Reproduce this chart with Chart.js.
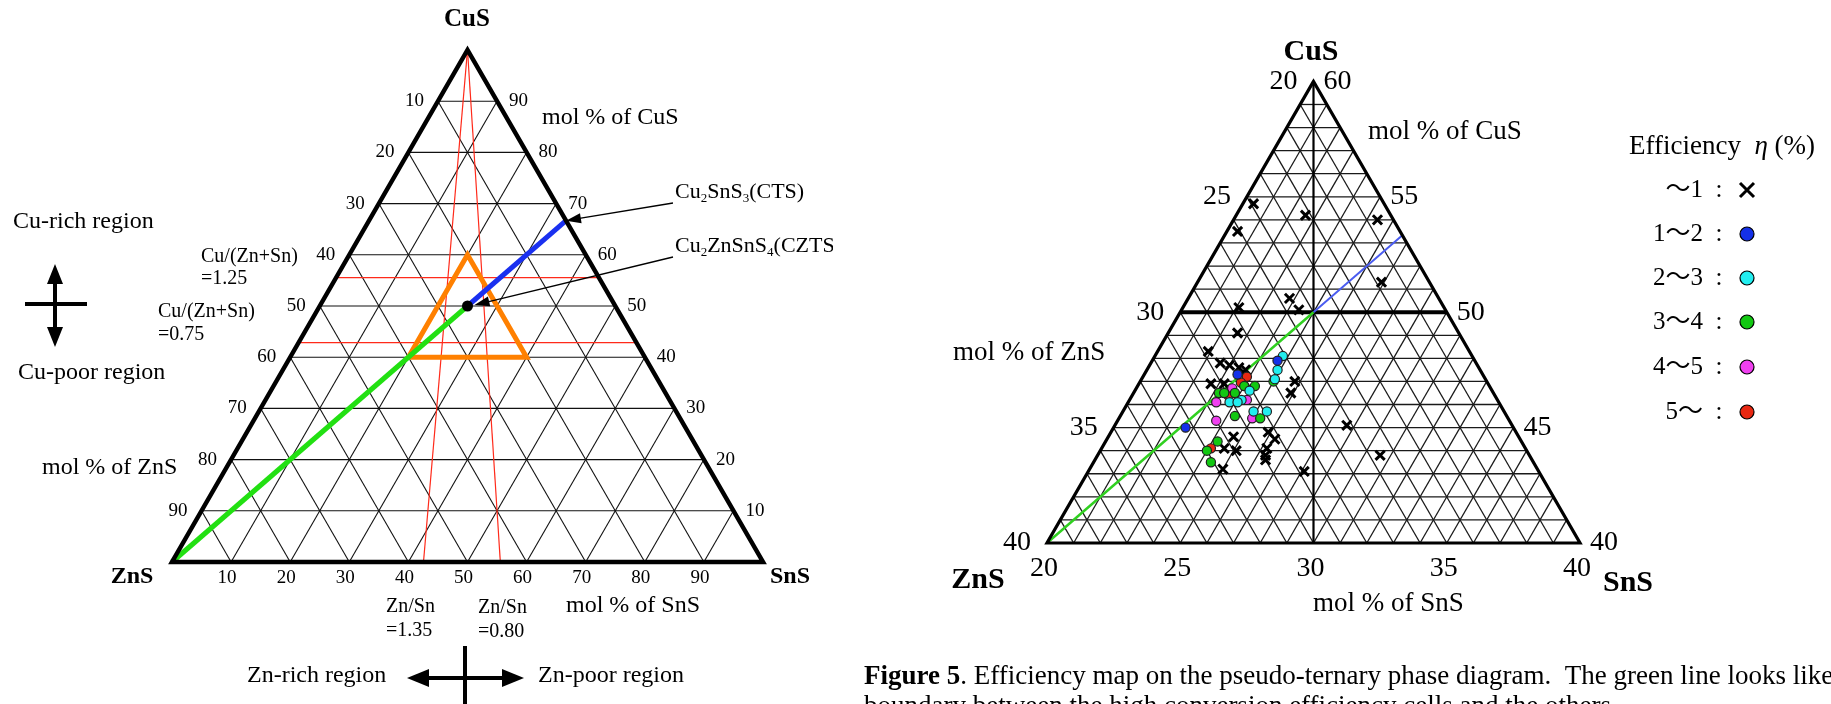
<!DOCTYPE html>
<html>
<head>
<meta charset="utf-8">
<script src="https://cdn.jsdelivr.net/npm/chart.js@4.4.0/dist/chart.umd.min.js"></script>
<style>
  html, body { margin: 0; padding: 0; background: #fff; }
  #wrap { position: relative; width: 1831px; height: 704px; overflow: hidden; }
  canvas { position: absolute; top: 0; }
  #left { left: 0; }
  #right { left: 850px; }
</style>
</head>
<body>
<div id="wrap">
  <canvas id="left" width="833" height="704"></canvas>
  <canvas id="right" width="981" height="704"></canvas>
</div>
<script>
// ---- data (compositions are [CuS, ZnS, SnS] in mol %) ----
const fullTicks = [10, 20, 30, 40, 50, 60, 70, 80, 90];
const cuRatios = [1.25, 0.75];     // Cu/(Zn+Sn)
const znSnRatios = [1.35, 0.80];   // Zn/Sn
const CZTS = [50, 25, 25];
const CTS = [66.67, 0, 33.33];
const ZNS = [0, 100, 0];
const zoomBox = [[60, 20, 20], [40, 40, 20], [40, 20, 40]];

// zoomed diagram
const zoomLeftTicks = [20, 25, 30, 35, 40];    // ZnS
const zoomRightTicks = [60, 55, 50, 45, 40];   // CuS
const zoomBottomTicks = [20, 25, 30, 35, 40];  // SnS
const ctsEdge = [53.33, 20, 26.67];

// efficiency classes, points as [CuS, SnS]
const effBelow1 = [[49.1, 22.6], [48.3, 21.9], [47.8, 22.6], [47.7, 23.0], [47.6, 23.4], [47.5, 23.7],
  [46.9, 22.7], [46.9, 23.2], [47.0, 25.8], [46.5, 25.9], [44.6, 24.7], [44.8, 25.9], [44.5, 26.3],
  [44.1, 24.6], [44.0, 25.1], [44.1, 26.2], [43.8, 26.3], [43.6, 26.4], [43.2, 25.0], [43.1, 28.1],
  [45.1, 28.7], [43.8, 30.6], [54.7, 20.4], [54.2, 22.6], [54.0, 25.4], [53.5, 20.4], [51.3, 26.9],
  [50.6, 23.8], [50.1, 24.4], [50.2, 22.1]];
const eff1to2 = [[47.9, 24.7], [47.3, 23.5], [45.0, 22.7]];
const eff2to3 = [[48.1, 24.8], [47.5, 24.9], [47.1, 25.0], [46.6, 24.3], [46.2, 24.2], [46.1, 23.8],
  [46.1, 24.1], [45.7, 24.9], [45.7, 25.4]];
const eff3to4 = [[46.8, 24.0], [46.8, 24.4], [46.5, 23.2], [46.5, 23.4], [46.5, 23.8], [45.5, 24.3],
  [45.4, 25.3], [44.4, 24.2], [44.0, 24.0], [43.5, 24.4], [47.0, 25.0]];
const eff4to5 = [[46.7, 23.6], [46.1, 23.3], [45.3, 23.7], [45.4, 25.0], [46.2, 24.4]];
const eff5up = [[47.2, 23.9], [46.95, 23.8], [46.4, 23.6], [44.1, 24.1]];
const effLabels = ['\uFF5E1', '1\uFF5E2', '2\uFF5E3', '3\uFF5E4', '4\uFF5E5', '5\uFF5E'];
const effColors = [null, '#1430e8', '#22eef0', '#12c812', '#f040f0', '#e82812'];

// ---- helpers ----
const H = Math.sqrt(3) / 2;
const SERIF = '"Liberation Serif", "Noto Sans CJK JP", serif';
function tern(c) { return { x: c[2] + c[0] / 2, y: c[0] * H }; }
function fromCuSn(p) { return [p[0], 100 - p[0] - p[1], p[1]]; }

function seg(points, color, width, order) {
  return {
    data: points.map(tern), showLine: true, borderColor: color, borderWidth: width,
    pointRadius: 0, pointHoverRadius: 0, fill: false, clip: false, order: order, tension: 0,
    borderCapStyle: 'butt', borderJoinStyle: 'miter'
  };
}

function arrowHead(ctx, x1, y1, x2, y2, head, half) {
  const a = Math.atan2(y2 - y1, x2 - x1);
  const c = Math.cos(a), s = Math.sin(a);
  ctx.beginPath();
  ctx.moveTo(x1, y1);
  ctx.lineTo(x2 - c * head * 0.7, y2 - s * head * 0.7);
  ctx.stroke();
  ctx.beginPath();
  ctx.moveTo(x2, y2);
  ctx.lineTo(x2 - c * head + s * half, y2 - s * head - c * half);
  ctx.lineTo(x2 - c * head - s * half, y2 - s * head + c * half);
  ctx.closePath();
  ctx.fill();
}

function chem(ctx, parts, x, y, size) {
  ctx.textAlign = 'left';
  parts.forEach(p => {
    const sub = /^\d$/.test(p);
    ctx.font = (sub ? Math.round(size * 0.6) : size) + 'px ' + SERIF;
    ctx.fillText(p, x, sub ? y + size * 0.32 : y);
    x += ctx.measureText(p).width;
  });
}

function txt(ctx, s, x, y, size, align, bold) {
  ctx.font = (bold ? 'bold ' : '') + size + 'px ' + SERIF;
  ctx.textAlign = align || 'left';
  ctx.fillText(s, x, y);
}

// ---- left: full pseudo-ternary diagram ----
const leftSets = [];
fullTicks.forEach(v => {
  leftSets.push(seg([[v, 100 - v, 0], [v, 0, 100 - v]], '#111', 1.1, 10));
  leftSets.push(seg([[100 - v, v, 0], [0, v, 100 - v]], '#111', 1.1, 10));
  leftSets.push(seg([[100 - v, 0, v], [0, 100 - v, v]], '#111', 1.1, 10));
});
cuRatios.forEach(r => {
  const c = 100 * r / (1 + r);
  leftSets.push(seg([[c, 100 - c, 0], [c, 0, 100 - c]], '#ff2a1a', 1.2, 8));
});
znSnRatios.forEach(r => {
  const s = 100 / (1 + r);
  leftSets.push(seg([[100, 0, 0], [0, 100 - s, s]], '#ff2a1a', 1.2, 8));
});
leftSets.push(seg([...zoomBox, zoomBox[0], zoomBox[1]], '#ff8000', 5, 6));
leftSets.push(seg([ZNS, CZTS], '#22e012', 5, 4));
leftSets.push(seg([CZTS, CTS], '#1a30f0', 5, 4));
leftSets.push(seg([[100, 0, 0], [0, 100, 0], [0, 0, 100], [100, 0, 0], [0, 100, 0]], '#000', 4.5, 2));
leftSets.push({ data: [tern(CZTS)], showLine: false, pointRadius: 5.5, pointBackgroundColor: '#000',
  pointBorderWidth: 0, clip: false, order: 0 });

const leftText = {
  id: 'leftText',
  afterDraw(chart) {
    const ctx = chart.ctx, sx = chart.scales.x, sy = chart.scales.y;
    const P = c => { const t = tern(c); return [sx.getPixelForValue(t.x), sy.getPixelForValue(t.y)]; };
    ctx.save();
    ctx.fillStyle = '#000';
    ctx.strokeStyle = '#000';
    ctx.textBaseline = 'middle';
    fullTicks.forEach(v => {
      let p = P([100 - v, v, 0]);
      txt(ctx, String(v), p[0] - 14, p[1], 19, 'right');
      p = P([v, 0, 100 - v]);
      txt(ctx, String(v), p[0] + 12, p[1], 19, 'left');
      p = P([0, 100 - v, v]);
      txt(ctx, String(v), p[0] - 4, p[1] + 16, 19, 'center');
    });
    txt(ctx, 'CuS', 467, 20, 25, 'center', true);
    txt(ctx, 'ZnS', 132, 577, 24, 'center', true);
    txt(ctx, 'SnS', 790, 577, 24, 'center', true);
    txt(ctx, 'mol % of CuS', 542, 118, 24);
    txt(ctx, 'mol % of ZnS', 42, 468, 24);
    txt(ctx, 'mol % of SnS', 566, 606, 24);
    txt(ctx, 'Cu-rich region', 13, 222, 24);
    txt(ctx, 'Cu-poor region', 18, 373, 24);
    txt(ctx, 'Cu/(Zn+Sn)', 201, 257, 20);
    txt(ctx, '=1.25', 201, 279, 20);
    txt(ctx, 'Cu/(Zn+Sn)', 158, 312, 20);
    txt(ctx, '=0.75', 158, 335, 20);
    txt(ctx, 'Zn/Sn', 386, 607, 20);
    txt(ctx, '=1.35', 386, 631, 20);
    txt(ctx, 'Zn/Sn', 478, 608, 20);
    txt(ctx, '=0.80', 478, 632, 20);
    txt(ctx, 'Zn-rich region', 247, 676, 24);
    txt(ctx, 'Zn-poor region', 538, 676, 24);
    chem(ctx, ['Cu', '2', 'SnS', '3', '(CTS)'], 675, 192, 22);
    chem(ctx, ['Cu', '2', 'ZnSnS', '4', '(CZTS)'], 675, 246, 22);

    // pointer arrows to CTS and CZTS
    ctx.lineWidth = 1.3;
    const pc = P(CTS);
    arrowHead(ctx, 673, 203, pc[0], pc[1], 15, 5);
    const pz = P(CZTS);
    arrowHead(ctx, 673, 257, pz[0] + 7, pz[1] - 1, 15, 5);

    // Cu-rich / Cu-poor double arrow
    ctx.lineWidth = 4;
    arrowHead(ctx, 55, 304, 55, 264, 20, 8);
    arrowHead(ctx, 55, 304, 55, 347, 20, 8);
    ctx.beginPath(); ctx.moveTo(25, 304); ctx.lineTo(87, 304); ctx.stroke();
    // Zn-rich / Zn-poor double arrow
    arrowHead(ctx, 465, 678, 407, 678, 22, 9);
    arrowHead(ctx, 465, 678, 524, 678, 22, 9);
    ctx.beginPath(); ctx.moveTo(465, 646); ctx.lineTo(465, 704); ctx.stroke();
    ctx.restore();
  }
};

new Chart(document.getElementById('left'), {
  type: 'scatter',
  data: { datasets: leftSets },
  options: {
    responsive: false, animation: false, events: [],
    layout: { padding: { left: 172, right: 70, top: 50, bottom: 142 } },
    scales: {
      x: { type: 'linear', min: 0, max: 100, display: false },
      y: { type: 'linear', min: 0, max: 100 * H, display: false }
    },
    plugins: { legend: { display: false }, tooltip: { enabled: false } }
  },
  plugins: [leftText]
});

// ---- right: efficiency map on the zoomed region ----
const rightSets = [];
for (let v = 41; v <= 59; v++) rightSets.push(seg([[v, 80 - v, 20], [v, 20, 80 - v]], '#1a1a1a', 1.3, 10));
for (let v = 21; v <= 39; v++) {
  rightSets.push(seg([[80 - v, v, 20], [40, v, 60 - v]], '#1a1a1a', 1.3, 10));
  rightSets.push(seg([[80 - v, 20, v], [40, 60 - v, v]], '#1a1a1a', 1.3, 10));
}
rightSets.push(seg([[50, 30, 20], [50, 20, 30]], '#000', 4, 8));
rightSets.push(seg([[60, 20, 20], [40, 30, 30]], '#000', 2.2, 8));
rightSets.push(seg([[40, 40, 20], CZTS], '#30d020', 2.5, 6));
rightSets.push(seg([CZTS, ctsEdge], '#4a5cf0', 2, 6));
rightSets.push(seg([...zoomBox, zoomBox[0], zoomBox[1]], '#000', 3.2, 5));

const effSeries = [effBelow1, eff1to2, eff2to3, eff3to4, eff4to5, eff5up];
effSeries.forEach((pts, i) => {
  const ds = { label: effLabels[i], data: pts.map(p => tern(fromCuSn(p))), showLine: false, clip: false, order: 1 };
  if (i === 0) {
    Object.assign(ds, { pointStyle: 'crossRot', pointRadius: 6.5, pointBorderWidth: 3, pointBorderColor: '#000' });
  } else {
    Object.assign(ds, { pointStyle: 'circle', pointRadius: 4.6, pointBorderWidth: 1.2,
      pointBorderColor: '#202020', pointBackgroundColor: effColors[i], order: 0 });
  }
  rightSets.push(ds);
});

const rightText = {
  id: 'rightText',
  afterDraw(chart) {
    const ctx = chart.ctx, sx = chart.scales.x, sy = chart.scales.y;
    const P = c => { const t = tern(c); return [sx.getPixelForValue(t.x), sy.getPixelForValue(t.y)]; };
    ctx.save();
    ctx.fillStyle = '#000';
    ctx.strokeStyle = '#000';
    ctx.textBaseline = 'middle';
    zoomLeftTicks.forEach(v => {
      const p = P([80 - v, v, 20]);
      txt(ctx, String(v), p[0] - 16, p[1], 28, 'right');
    });
    zoomRightTicks.forEach(v => {
      const p = P([v, 20, 80 - v]);
      txt(ctx, String(v), p[0] + 10, p[1], 28, 'left');
    });
    zoomBottomTicks.forEach(v => {
      const p = P([40, 60 - v, v]);
      txt(ctx, String(v), p[0] - 3, p[1] + 26, 28, 'center');
    });
    txt(ctx, 'CuS', 461, 52, 30, 'center', true);
    txt(ctx, 'ZnS', 128, 580, 30, 'center', true);
    txt(ctx, 'SnS', 778, 583, 30, 'center', true);
    txt(ctx, 'mol % of CuS', 518, 132, 27);
    txt(ctx, 'mol % of ZnS', 103, 353, 27);
    txt(ctx, 'mol % of SnS', 463, 604, 27);

    // legend
    ctx.font = '27px ' + SERIF;
    ctx.textAlign = 'left';
    let lx = 779;
    ctx.fillText('Efficiency  ', lx, 147);
    lx += ctx.measureText('Efficiency  ').width;
    ctx.font = 'italic 27px ' + SERIF;
    ctx.fillText('\u03B7', lx, 147);
    lx += ctx.measureText('\u03B7').width;
    ctx.font = '27px ' + SERIF;
    ctx.fillText(' (%)', lx, 147);
    const rows = [190, 234, 278, 322, 367, 412];
    effLabels.forEach((lab, i) => {
      txt(ctx, lab, 853, rows[i], 25, 'right');
      txt(ctx, ':', 869, rows[i], 25, 'center');
      if (i === 0) {
        ctx.lineWidth = 3;
        ctx.beginPath();
        ctx.moveTo(890, rows[i] - 7); ctx.lineTo(904, rows[i] + 7);
        ctx.moveTo(904, rows[i] - 7); ctx.lineTo(890, rows[i] + 7);
        ctx.stroke();
      } else {
        ctx.lineWidth = 1.2;
        ctx.fillStyle = effColors[i];
        ctx.beginPath(); ctx.arc(897, rows[i], 7, 0, Math.PI * 2); ctx.fill(); ctx.stroke();
        ctx.fillStyle = '#000';
      }
    });

    // caption
    ctx.textBaseline = 'alphabetic';
    ctx.font = 'bold 27px ' + SERIF;
    ctx.textAlign = 'left';
    ctx.fillText('Figure 5', 14, 684);
    const w = ctx.measureText('Figure 5').width;
    ctx.font = '27px ' + SERIF;
    ctx.fillText('. Efficiency map on the pseudo-ternary phase diagram.  The green line looks like a', 14 + w, 684);
    ctx.fillText('boundary between the high conversion efficiency cells and the others.', 14, 714);
    ctx.restore();
  }
};

new Chart(document.getElementById('right'), {
  type: 'scatter',
  data: { datasets: rightSets },
  options: {
    responsive: false, animation: false, events: [],
    layout: { padding: { left: 197, right: 251, top: 81.4, bottom: 161 } },
    scales: {
      x: { type: 'linear', min: 40, max: 60, display: false },
      y: { type: 'linear', min: 40 * H, max: 60 * H, display: false }
    },
    plugins: { legend: { display: false }, tooltip: { enabled: false } }
  },
  plugins: [rightText]
});
</script>
</body>
</html>
